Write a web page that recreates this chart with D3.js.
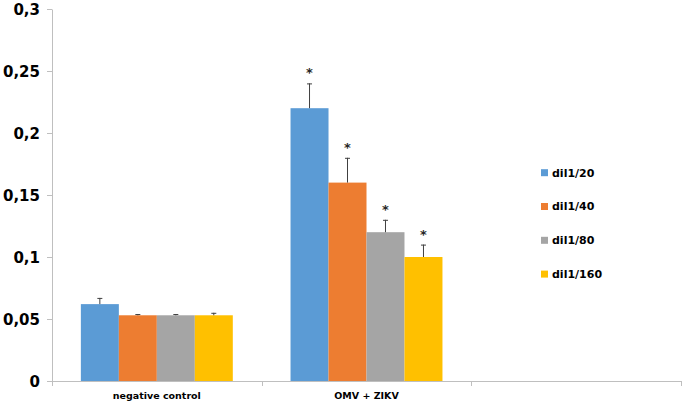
<!DOCTYPE html>
<style>
body { margin: 0; background: #fff; }
svg { display: block; }
.axis text { font-family: "DejaVu Sans", sans-serif; font-weight: bold; fill: #000; }
</style>
<svg width="685" height="405"></svg>
<script src="https://d3js.org/d3.v7.min.js"></script>
<script>

// chart values
var categories = ["negative control", "OMV + ZIKV", ""];
var series = ["dil1/20", "dil1/40", "dil1/80", "dil1/160"];
var means = [
  [0.062, 0.053, 0.053, 0.053],
  [0.22, 0.16, 0.12, 0.10],
  []
];
var errors = [
  [0.005, 0.001, 0.001, 0.002],
  [0.02, 0.02, 0.01, 0.01],
  []
];
var significant = [
  [false, false, false, false],
  [true, true, true, true],
  []
];
var yTicks = [0, 0.05, 0.1, 0.15, 0.2, 0.25, 0.3];
var colors = ["#5B9BD5", "#ED7D31", "#A5A5A5", "#FFC000"];

var svg = d3.select("svg"),
    margin = {top: 9, right: 4, bottom: 24, left: 52},
    width = +svg.attr("width") - margin.left - margin.right,
    height = +svg.attr("height") - margin.top - margin.bottom,
    g = svg.append("g").attr("transform", "translate(" + margin.left + "," + margin.top + ")");

var x0 = d3.scaleBand()
    .domain(categories)
    .range([0, width])
    .padding(0);

var x1 = d3.scaleBand()
    .domain(series)
    .range([0, x0.bandwidth()])
    .paddingInner(0)
    .paddingOuter(0.76);

var y = d3.scaleLinear()
    .domain([0, 0.3])
    .range([height, 0]);

var z = d3.scaleOrdinal().domain(series).range(colors);

// rows: one per bar
var rows = [];
categories.forEach(function(c, i) {
  means[i].forEach(function(v, j) {
    rows.push({cat: c, key: series[j], value: v, err: errors[i][j], sig: significant[i][j]});
  });
});

// y axis
var yAxis = g.append("g")
    .attr("class", "axis axis--y")
    .call(d3.axisLeft(y)
      .tickValues(yTicks)
      .tickSize(5)
      .tickSizeOuter(0)
      .tickPadding(7)
      .tickFormat(function(d) { return String(+d.toFixed(2)).replace(".", ","); }));
yAxis.selectAll("text").style("font-size", "15px").attr("dy", "0.37em");
yAxis.selectAll("line").attr("stroke", "#bfbfbf");
yAxis.select(".domain").attr("stroke", "#bfbfbf");

// x axis line + boundary ticks
var xg = g.append("g").attr("class", "axis axis--x");
xg.append("line")
    .attr("x1", 0).attr("x2", width)
    .attr("y1", height + 0.5).attr("y2", height + 0.5)
    .attr("stroke", "#bfbfbf");
var bounds = categories.map(function(c) { return x0(c); }).concat([width]);
xg.selectAll(".btick")
  .data(bounds)
  .enter().append("line")
    .attr("class", "btick")
    .attr("x1", function(d) { return Math.round(d) + 0.5; })
    .attr("x2", function(d) { return Math.round(d) + 0.5; })
    .attr("y1", height)
    .attr("y2", height + 5)
    .attr("stroke", "#bfbfbf");
xg.selectAll(".clabel")
  .data(categories)
  .enter().append("text")
    .attr("class", "clabel")
    .attr("x", function(d) { return x0(d) + x0.bandwidth() / 2; })
    .attr("y", height + 18)
    .attr("text-anchor", "middle")
    .style("font-size", "9.5px")
    .text(function(d) { return d; });

// bars
g.selectAll(".bar")
  .data(rows)
  .enter().append("rect")
    .attr("class", "bar")
    .attr("x", function(d) { return x0(d.cat) + x1(d.key); })
    .attr("y", function(d) { return y(d.value); })
    .attr("width", x1.bandwidth())
    .attr("height", function(d) { return y(0) - y(d.value); })
    .attr("fill", function(d) { return z(d.key); });

// error bars (upper only)
var eb = g.selectAll(".err")
  .data(rows)
  .enter().append("g")
    .attr("class", "err")
    .attr("stroke", "#404040")
    .attr("stroke-width", 1);
eb.append("line")
    .attr("x1", function(d) { return x0(d.cat) + x1(d.key) + x1.bandwidth() / 2; })
    .attr("x2", function(d) { return x0(d.cat) + x1(d.key) + x1.bandwidth() / 2; })
    .attr("y1", function(d) { return y(d.value); })
    .attr("y2", function(d) { return y(d.value + d.err); });
eb.append("line")
    .attr("x1", function(d) { return x0(d.cat) + x1(d.key) + x1.bandwidth() / 2 - 2.5; })
    .attr("x2", function(d) { return x0(d.cat) + x1(d.key) + x1.bandwidth() / 2 + 2.5; })
    .attr("y1", function(d) { return y(d.value + d.err) + 0.5; })
    .attr("y2", function(d) { return y(d.value + d.err) + 0.5; });

// significance stars
g.selectAll(".star")
  .data(rows.filter(function(d) { return d.sig; }))
  .enter().append("text")
    .attr("class", "star")
    .attr("x", function(d) { return x0(d.cat) + x1(d.key) + x1.bandwidth() / 2; })
    .attr("y", function(d) { return y(d.value + d.err) - 6; })
    .attr("text-anchor", "middle")
    .attr("fill", "#262626")
    .style("font", "bold 13px 'DejaVu Sans', sans-serif")
    .text("*");

// legend
var legend = svg.append("g")
    .attr("class", "legend")
    .selectAll("g")
  .data(series)
  .enter().append("g")
    .attr("transform", function(d, i) { return "translate(541," + (172.7 + i * 33.8) + ")"; });
legend.append("rect")
    .attr("x", 0).attr("y", -3.5)
    .attr("width", 7).attr("height", 7)
    .attr("fill", function(d) { return z(d); });
legend.append("text")
    .attr("x", 11)
    .attr("dy", "0.36em")
    .style("font", "bold 11px 'DejaVu Sans', sans-serif")
    .text(function(d) { return d; });

</script>
